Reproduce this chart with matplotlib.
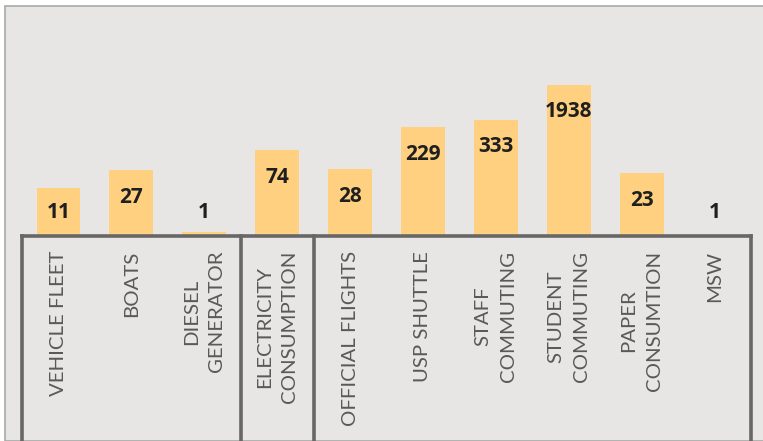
import matplotlib
matplotlib.use("Agg")
import matplotlib.pyplot as plt
from matplotlib.patches import Rectangle
from matplotlib.lines import Line2D
from matplotlib.transforms import blended_transform_factory

categories = ["VEHICLE FLEET", "BOATS", "DIESEL\nGENERATOR", "ELECTRICITY\nCONSUMPTION",
              "OFFICIAL FLIGHTS", "USP SHUTTLE", "STAFF\nCOMMUTING", "STUDENT\nCOMMUTING",
              "PAPER\nCONSUMTION", "MSW"]
values = [11, 27, 1.2, 74, 28, 229, 333, 1938, 23, 1]
value_labels = ["11", "27", "1", "74", "28", "229", "333", "1938", "23", "1"]
group_bounds = [-0.5, 2.5, 3.5, 9.5]

W, H, DPI = 763, 441, 100
fig = plt.figure(figsize=(W / DPI, H / DPI), dpi=DPI)
fig.patch.set_facecolor("white")

# gray panel
panel = Rectangle((5 / W, 0.5 / H), 1.2, (435 - 0.5) / H, transform=fig.transFigure,
                  facecolor="#E7E6E4", edgecolor="#A9A9A9", linewidth=1.2, zorder=-5)
fig.patches.append(panel)

base_px = 236
top_px = 52
left_px, right_px = 22, 751
ax = fig.add_axes([left_px / W, (H - base_px) / H, (right_px - left_px) / W, (base_px - top_px) / H])
ax.set_facecolor("none")
ax.set_yscale("log")
ax.set_ylim(1, 10000)
ax.set_xlim(-0.5, len(categories) - 0.5)
for s in ax.spines.values():
    s.set_visible(False)
ax.set_xticks([])
ax.set_yticks([])
ax.minorticks_off()
ax.tick_params(which="both", left=False, bottom=False, labelleft=False, labelbottom=False)

x = list(range(len(categories)))
ax.bar(x, [v - 1 for v in values], bottom=1, width=0.6, color="#FFD07F", zorder=2)

# baseline
ax.plot([-0.5, len(categories) - 0.5], [1, 1], color="#676767", lw=2.6, zorder=3,
        clip_on=False, solid_capstyle="projecting")

# group separators
trans = blended_transform_factory(ax.transData, fig.transFigure)
for b in group_bounds:
    fig.lines.append(Line2D([b, b], [(H - base_px) / H, -0.01], transform=trans,
                            color="#676767", lw=2.6, zorder=3))

# value labels
fig.canvas.draw()
base_disp = ax.transData.transform((0, 1))[1]
for i, (v, lab) in enumerate(zip(values, value_labels)):
    py = ax.transData.transform((i, v))[1]
    ly = max(py - 27, base_disp + 24)
    ldata = ax.transData.inverted().transform((0, ly))[1]
    ax.text(i, ldata, lab, ha="center", va="center", fontsize=15, fontweight="bold",
            family=["Open Sans", "DejaVu Sans"], color="#1F1F1F", zorder=4, clip_on=False)

# category labels
for i, c in enumerate(categories):
    ax.annotate(c, xy=(i, 1), xycoords="data", xytext=(0, -15 * 72 / DPI),
                textcoords="offset points", rotation=90, ha="center", va="top",
                multialignment="center", fontsize=14.7,
                family=["Lato", "DejaVu Sans"], color="#595959",
                linespacing=1.58, annotation_clip=False)

fig.savefig("out.png", dpi=DPI, facecolor="white")
